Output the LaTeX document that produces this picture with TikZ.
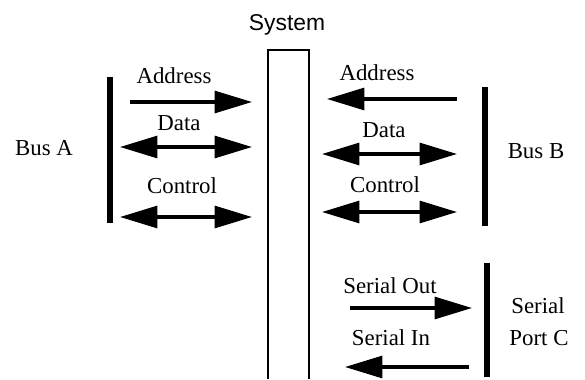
\documentclass[tikz,border=0pt]{standalone}
\usepackage{fontspec}
\setmainfont{Liberation Serif}
\newfontfamily\sysfont{Liberation Sans}
\usetikzlibrary{arrows.meta,positioning}

\begin{document}
\begin{tikzpicture}[
    x=0.02cm, y=-0.02cm,
    txt/.style={font=\fontsize{13}{18}\selectfont, inner sep=0pt, anchor=base},
    bar/.style={line width=3.2pt},
    box/.style={line width=1.4pt},
    sig/.style={line width=1.8pt, -{Triangle[length=0.75cm, width=0.44cm]}},
    bisig/.style={line width=1.8pt, {Triangle[length=0.75cm, width=0.44cm]}-{Triangle[length=0.75cm, width=0.44cm]}}
]
    \useasboundingbox (0,0) rectangle (585,379);

    % system bus
    \node[txt, font=\sysfont\fontsize{13}{18}\selectfont] (system) at (287,30) {System};
    \draw[box] (268,379) -- (268,50) -- (309,50) -- (309,379);

    % bus bars
    \draw[bar] (110,77) -- (110,223);
    \draw[bar] (485,87) -- (485,226);
    \draw[bar] (487,263) -- (487,377);

    % labels
    \node[txt] (busA) at (44,155) {Bus A};
    \node[txt] (addrA) at (174,83) {Address};
    \node[txt] (dataA) at (179,130) {Data};
    \node[txt] (ctrlA) at (182,193) {Control};
    \node[txt] (addrB) at (377,80) {Address};
    \node[txt] (dataB) at (384,137) {Data};
    \node[txt] (ctrlB) at (385,192) {Control};
    \node[txt] (busB) at (536,158) {Bus B};
    \node[txt] (serOut) at (390,293) {Serial Out};
    \node[txt] (serIn) at (391,345) {Serial In};
    \node[txt] (serial) at (538,313) {Serial};
    \node[txt] (portC) at (539,345) {Port C};

    % arrow ends
    \coordinate (addrAs) at (130,102);
    \coordinate (addrAe) at (252,102);
    \coordinate (dataAs) at (120,147);
    \coordinate (dataAe) at (252,147);
    \coordinate (ctrlAs) at (120,217);
    \coordinate (ctrlAe) at (252,217);
    \coordinate (addrBs) at (457,99);
    \coordinate (addrBe) at (327,99);
    \coordinate (dataBs) at (322,154);
    \coordinate (dataBe) at (457,154);
    \coordinate (ctrlBs) at (322,212);
    \coordinate (ctrlBe) at (457,212);
    \coordinate (serOuts) at (350,308);
    \coordinate (serOute) at (472,308);
    \coordinate (serIns) at (469,367);
    \coordinate (serIne) at (345,367);

    \draw[sig] (addrAs) -- (addrAe);
    \draw[bisig] (dataAs) -- (dataAe);
    \draw[bisig] (ctrlAs) -- (ctrlAe);
    \draw[sig] (addrBs) -- (addrBe);
    \draw[bisig] (dataBs) -- (dataBe);
    \draw[bisig] (ctrlBs) -- (ctrlBe);
    \draw[sig] (serOuts) -- (serOute);
    \draw[sig] (serIns) -- (serIne);
\end{tikzpicture}
\end{document}
